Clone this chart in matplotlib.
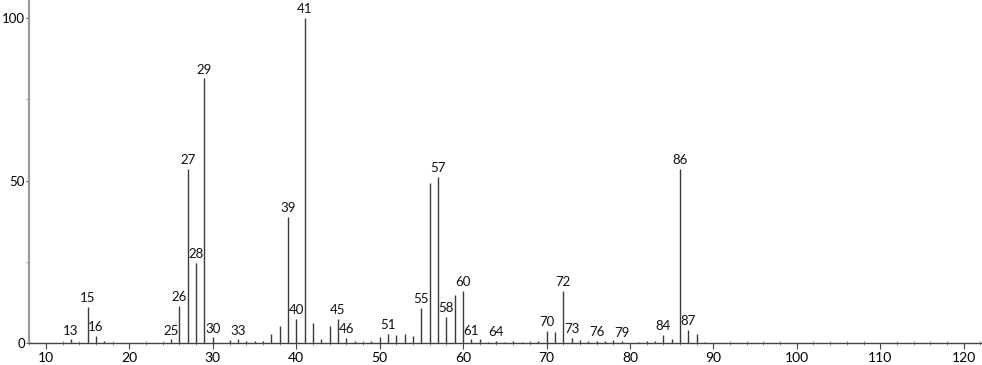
import numpy as np
import matplotlib
matplotlib.use("Agg")
import matplotlib.pyplot as plt
from matplotlib.ticker import MultipleLocator

# m/z values and relative intensity (%)
mz = [13, 15, 16, 17, 25, 26, 27, 28, 29, 30, 32, 33, 34, 35, 36, 37, 38, 39, 40,
      41, 42, 43, 44, 45, 46, 47, 48, 49, 50, 51, 52, 53, 54, 55, 56, 57, 58, 59,
      60, 61, 62, 63, 64, 65, 66, 67, 68, 69, 70, 71, 72, 73, 74, 75, 76, 77, 78,
      79, 81, 82, 83, 84, 85, 86, 87, 88, 89]
intensity = [1.2, 11.1, 2.3, 0.6, 1.2, 11.4, 53.6, 24.8, 81.5, 1.8, 0.9, 1.2, 0.8, 0.6,
             0.6, 2.9, 5.4, 38.9, 7.4, 100.0, 6.2, 1.3, 5.4, 7.4, 1.6, 0.8, 0.5, 0.7,
             1.8, 2.9, 2.6, 2.9, 2.1, 11.0, 49.3, 51.2, 8.2, 14.9, 16.2, 1.2, 1.2,
             0.5, 0.7, 0.5, 0.6, 0.5, 0.5, 0.8, 3.8, 3.6, 16.0, 1.6, 1.0, 0.6, 0.8,
             0.6, 1.0, 0.6, 0.5, 0.7, 0.6, 2.6, 1.3, 53.7, 4.1, 2.8, 0.5]

# peaks that carry a label
labelled = [13, 15, 16, 25, 26, 27, 28, 29, 30, 33, 39, 40, 41, 45, 46, 51, 55, 57,
            58, 60, 61, 64, 70, 72, 73, 76, 79, 84, 86, 87]

fig = plt.figure(figsize=(9.82, 3.65), dpi=100)
ax = fig.add_axes([0.0295, 0.0595, 0.9705, 0.9405])

ax.vlines(mz, 0, intensity, colors="#3a3a3a", linewidth=1.0)

peak = dict(zip(mz, intensity))
for m in labelled:
    ax.annotate(str(m), (m, peak[m]), xytext=(0, 2), textcoords="offset points",
                ha="center", va="bottom", fontsize=9.5, family="Lato", color="#111111")

ax.set_xlim(7.96, 122.2)
ax.set_ylim(0, 105.6)

ax.xaxis.set_major_locator(MultipleLocator(10))
ax.xaxis.set_minor_locator(MultipleLocator(2))
ax.yaxis.set_major_locator(MultipleLocator(50))
ax.yaxis.set_minor_locator(MultipleLocator(25))

ax.tick_params(axis="x", which="major", length=4, width=0.8, color="#444444",
               labelsize=10, pad=2)
ax.tick_params(axis="x", which="minor", direction="inout", length=3, width=0.6,
               color="#777777")
ax.tick_params(axis="y", which="major", length=2.5, width=0.8, color="#444444",
               labelsize=9.5, pad=0.5)
ax.tick_params(axis="y", which="minor", length=2, width=0.6, color="#777777")
for lab in ax.get_xticklabels() + ax.get_yticklabels():
    lab.set_family("Lato")

ax.spines["top"].set_visible(False)
ax.spines["right"].set_visible(False)
ax.spines["left"].set_color("#999999")
ax.spines["left"].set_linewidth(1.6)
ax.spines["bottom"].set_color("#444444")
ax.spines["bottom"].set_linewidth(1.0)
ax.set_facecolor("white")

fig.savefig("out.png", dpi=100)
